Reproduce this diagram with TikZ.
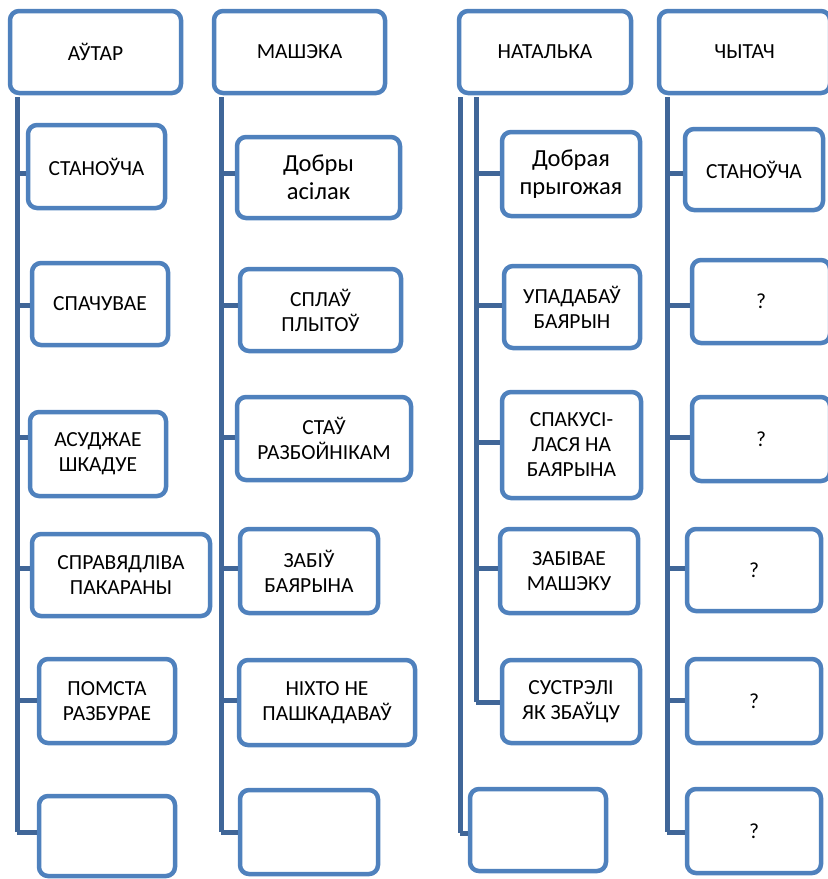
\documentclass[tikz,border=0pt]{standalone}
\usepackage{fontspec}
\setmainfont{Carlito}
\usepackage{tikz}
\definecolor{boxblue}{RGB}{79,129,189}
\definecolor{trunkblue}{RGB}{64,102,152}

\begin{document}
\begin{tikzpicture}[
      x=1pt, y=-1pt,
      item/.style={draw=boxblue, line width=4.5, rounded corners=9, fill=white,
                   align=center, inner sep=0pt, text=black,
                   font=\fontsize{21.5}{25}\selectfont},
      small/.style={font=\fontsize{24.5}{28}\selectfont},
      head/.style={item, minimum width=171, minimum height=82},
      trunk/.style={draw=trunkblue, line width=5},
    ]
    \useasboundingbox (0,0) rectangle (828,879);

    % column heads
    \node[head] (author)  at (95.5,52) {АЎТАР};
    \node[head] (mashka)  at (299.5,52) {МАШЭКА};
    \node[head, minimum width=172] (natalka) at (545,52) {НАТАЛЬКА};
    \node[head] (reader)  at (744.5,52) {ЧЫТАЧ};

    % author
    \node[item, minimum width=137, minimum height=83] (a1) at (96.5,166.5) {СТАНОЎЧА};
    \node[item, minimum width=136, minimum height=82] (a2) at (100,304) {СПАЧУВАЕ};
    \node[item, minimum width=136, minimum height=84] (a3) at (98,454) {АСУДЖАЕ\\ШКАДУЕ};
    \node[item, minimum width=178, minimum height=82] (a4) at (121,575) {СПРАВЯДЛІВА\\ПАКАРАНЫ};
    \node[item, minimum width=136, minimum height=84] (a5) at (107,701) {ПОМСТА\\РАЗБУРАЕ};
    \node[item, minimum width=136, minimum height=80] (a6) at (107,836) {};

    % mashka
    \node[item, small, minimum width=163, minimum height=81] (m1) at (318.5,177.5) {Добры\\асілак};
    \node[item, minimum width=161, minimum height=82] (m2) at (320.5,310) {СПЛАЎ\\ПЛЫТОЎ};
    \node[item, minimum width=174, minimum height=83] (m3) at (324,438.5) {СТАЎ\\РАЗБОЙНІКАМ};
    \node[item, minimum width=138, minimum height=84] (m4) at (309,571) {ЗАБІЎ\\БАЯРЫНА};
    \node[item, minimum width=176, minimum height=85] (m5) at (327,702.5) {НІХТО НЕ\\ПАШКАДАВАЎ};
    \node[item, minimum width=138, minimum height=84] (m6) at (309,832) {};

    % natalka
    \node[item, small, minimum width=138, minimum height=84] (n1) at (571,174) {Добрая\\прыгожая};
    \node[item, minimum width=136, minimum height=82] (n2) at (572,307) {УПАДАБАЎ\\БАЯРЫН};
    \node[item, minimum width=139, minimum height=106] (n3) at (571.5,445) {СПАКУСІ-\\ЛАСЯ НА\\БАЯРЫНА};
    \node[item, minimum width=138, minimum height=84] (n4) at (569,571) {ЗАБІВАЕ\\МАШЭКУ};
    \node[item, minimum width=138, minimum height=83] (n5) at (571,701.5) {СУСТРЭЛІ\\ЯК ЗБАЎЦУ};
    \node[item, minimum width=136, minimum height=82] (n6) at (538,830) {};

    % reader
    \node[item, minimum width=138, minimum height=81] (r1) at (754,169.5) {СТАНОЎЧА};
    \node[item, minimum width=138, minimum height=83] (r2) at (761,301.5) {?};
    \node[item, minimum width=138, minimum height=84] (r3) at (761,439) {?};
    \node[item, minimum width=134, minimum height=82] (r4) at (754,570) {?};
    \node[item, minimum width=134, minimum height=84] (r5) at (754,701) {?};
    \node[item, minimum width=134, minimum height=84] (r6) at (754,831) {?};

    % spines and branches
    \foreach \k/\y in {1/173,2/305,3/437,4/568,5/700,6/832} {
      \coordinate (ta\k) at (17,\y);
      \coordinate (tm\k) at (221,\y);
      \coordinate (tr\k) at (667,\y);
      \draw[trunk] (ta\k) -- (ta\k -| a\k.west);
      \draw[trunk] (tm\k) -- (tm\k -| m\k.west);
      \draw[trunk] (tr\k) -- (tr\k -| r\k.west);
    }
    \foreach \k/\y in {1/173,2/305,3/442,4/568,5/702} {
      \coordinate (tn\k) at (476,\y);
      \draw[trunk] (tn\k) -- (tn\k -| n\k.west);
    }
    \coordinate (tn6) at (460,833);
    \draw[trunk] (tn6) -- (tn6 -| n6.west);

    \draw[trunk] ([yshift=-2pt]author.south -| ta6) -- (ta6);
    \draw[trunk] ([yshift=-2pt]mashka.south -| tm6) -- (tm6);
    \draw[trunk] ([yshift=-2pt]reader.south -| tr6) -- (tr6);
    \draw[trunk] ([yshift=-2pt]natalka.south -| tn5) -- (tn5);
    \draw[trunk] ([yshift=-2pt]natalka.south -| tn6) -- (tn6);
  \end{tikzpicture}
\end{document}
